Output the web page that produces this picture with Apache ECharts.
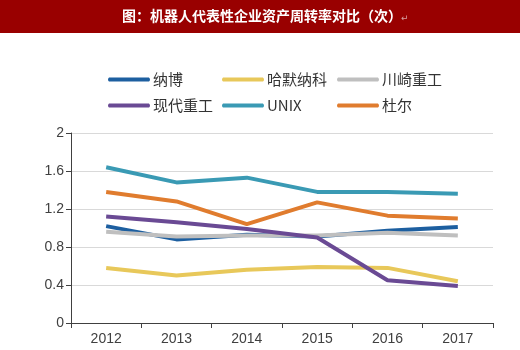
<!DOCTYPE html>
<html>
<head>
<meta charset="utf-8">
<script src="https://cdn.jsdelivr.net/npm/echarts@6/dist/echarts.min.js"></script>
<style>
  html, body { margin: 0; padding: 0; background: #fff; }
  #main { width: 520px; height: 350px; }
</style>
</head>
<body>
<div id="main"></div>
<script>
var years = ['2012', '2013', '2014', '2015', '2016', '2017'];
var names = ['纳博', '哈默纳科', '川崎重工', '现代重工', 'UNIX', '杜尔'];
var colors = ['#1d5fa0', '#e8c85a', '#bfbfbf', '#6a4a94', '#3a9ab4', '#e07c2e'];

var nabo = [1.02, 0.88, 0.93, 0.91, 0.97, 1.01];
var hdmn = [0.58, 0.50, 0.56, 0.59, 0.58, 0.44];
var kawasaki = [0.96, 0.91, 0.92, 0.92, 0.95, 0.92];
var hyundai = [1.12, 1.06, 0.99, 0.90, 0.45, 0.39];
var unix = [1.64, 1.48, 1.53, 1.38, 1.38, 1.36];
var duerr = [1.38, 1.28, 1.04, 1.27, 1.13, 1.10];

var seriesData = [nabo, hdmn, kawasaki, hyundai, unix, duerr];

// legend slots: [left, top]
var legendPos = [[103, 67], [217, 67], [332, 67], [103, 93], [217, 93], [332, 93]];

var chart = echarts.init(document.getElementById('main'));

var legends = names.map(function (n, i) {
  return {
    data: [n],
    left: legendPos[i][0],
    top: legendPos[i][1],
    itemWidth: 42,
    itemHeight: 14,
    itemGap: 0,
    icon: 'path://M2,5 L40,5 Q42,7 40,9 L2,9 Q0,7 2,5 Z',
    textStyle: { fontSize: 15, color: '#333', fontFamily: 'Noto Sans CJK SC', padding: [0, 0, 0, -2] }
  };
});

var series = names.map(function (n, i) {
  return {
    name: n,
    type: 'line',
    data: seriesData[i],
    symbol: 'none',
    smooth: false,
    lineStyle: { width: 4, color: colors[i] },
    itemStyle: { color: colors[i] }
  };
});

chart.setOption({
  animation: false,
  graphic: [
    { type: 'rect', left: 0, top: 0, shape: { width: 520, height: 33 }, style: { fill: '#990000' } },
    {
      type: 'text', left: 122, top: 9,
      style: { text: '图：机器人代表性企业资产周转率对比（次）', fill: '#fff', font: 'bold 14px "Noto Sans CJK SC"' }
    },
    {
      type: 'text', left: 401, top: 14,
      style: { text: '↵', fill: '#d8a0a0', font: '9px "DejaVu Sans"' }
    }
  ],
  legend: legends,
  grid: { left: 71, right: 27, top: 133, bottom: 27 },
  xAxis: {
    type: 'category',
    data: years,
    boundaryGap: true,
    axisLine: { lineStyle: { color: '#404040', width: 1 } },
    axisTick: { show: true, length: 5, lineStyle: { color: '#404040' } },
    axisLabel: { fontSize: 14, color: '#404040', fontFamily: 'Liberation Sans', margin: 9 }
  },
  yAxis: {
    type: 'value',
    min: 0,
    max: 2,
    interval: 0.4,
    axisLine: { show: true, lineStyle: { color: '#404040', width: 1 } },
    axisTick: { show: true, length: 5, inside: false, lineStyle: { color: '#404040' } },
    axisLabel: { fontSize: 14, color: '#404040', fontFamily: 'Liberation Sans', margin: 7 },
    splitLine: { lineStyle: { color: '#d9d9d9', width: 1 } }
  },
  series: series
});
</script>
</body>
</html>
